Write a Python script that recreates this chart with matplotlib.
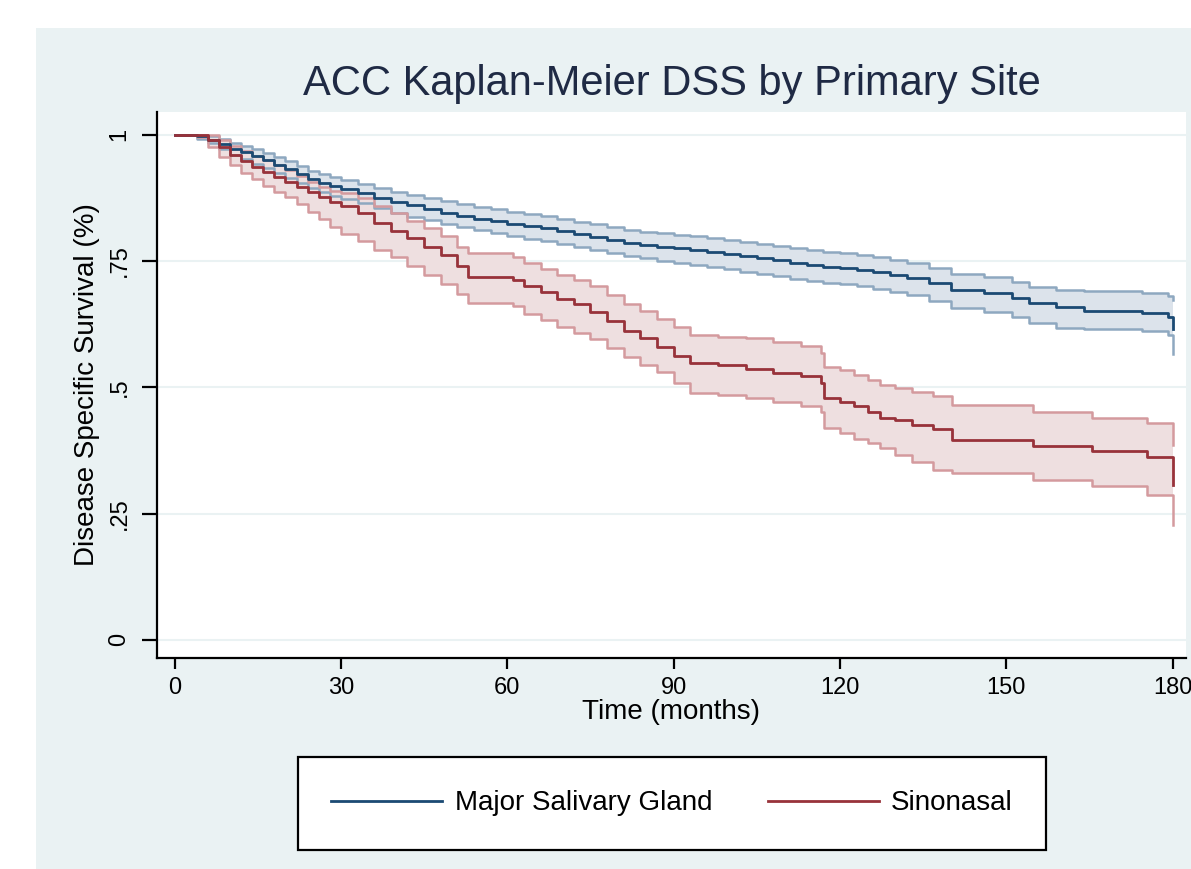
import matplotlib.pyplot as plt
import matplotlib.patches as mpatches
import numpy as np

plt.rcParams['font.family'] = ['Liberation Sans', 'DejaVu Sans']

# Major Salivary Gland: KM estimate and 95% CI
msg_t = [0, 4, 6, 8, 10, 12, 14, 16, 18, 20, 22, 24, 26, 28, 30, 33, 36, 39, 42, 45,
         48, 51, 54, 57, 60, 63, 66, 69, 72, 75, 78, 81, 84, 87, 90, 93, 96, 99, 102, 105,
         108, 111, 114, 117, 120, 123, 126, 129, 132, 136, 140, 146, 151, 154, 159, 164,
         174.5, 179.2, 180]
msg_s = [1.0, 0.997, 0.99, 0.982, 0.972, 0.965, 0.957, 0.949, 0.940, 0.932, 0.922, 0.912,
         0.905, 0.898, 0.892, 0.884, 0.874, 0.866, 0.860, 0.853, 0.846, 0.840, 0.834, 0.829,
         0.824, 0.819, 0.815, 0.809, 0.803, 0.798, 0.792, 0.786, 0.782, 0.778, 0.775, 0.772,
         0.768, 0.764, 0.759, 0.756, 0.752, 0.746, 0.742, 0.738, 0.737, 0.733, 0.728, 0.722,
         0.717, 0.706, 0.693, 0.687, 0.677, 0.667, 0.659, 0.652, 0.647, 0.640, 0.616]
msg_hi = [1.0, 1.0, 0.997, 0.992, 0.984, 0.978, 0.971, 0.964, 0.956, 0.948, 0.939, 0.929,
          0.923, 0.916, 0.911, 0.903, 0.894, 0.887, 0.881, 0.875, 0.868, 0.863, 0.857, 0.852,
          0.848, 0.843, 0.839, 0.834, 0.828, 0.823, 0.817, 0.812, 0.808, 0.805, 0.802, 0.799,
          0.795, 0.792, 0.787, 0.784, 0.780, 0.775, 0.771, 0.767, 0.766, 0.762, 0.757, 0.752,
          0.747, 0.737, 0.724, 0.718, 0.709, 0.699, 0.693, 0.690, 0.687, 0.680, 0.673]
msg_lo = [1.0, 0.992, 0.983, 0.972, 0.960, 0.952, 0.943, 0.934, 0.924, 0.915, 0.904, 0.894,
          0.886, 0.879, 0.872, 0.864, 0.854, 0.845, 0.838, 0.831, 0.824, 0.817, 0.811, 0.805,
          0.800, 0.794, 0.789, 0.783, 0.777, 0.771, 0.765, 0.759, 0.755, 0.750, 0.747, 0.743,
          0.739, 0.734, 0.729, 0.725, 0.721, 0.714, 0.710, 0.706, 0.704, 0.700, 0.694, 0.688,
          0.683, 0.670, 0.657, 0.650, 0.639, 0.628, 0.618, 0.616, 0.611, 0.603, 0.566]

# Sinonasal
sn_t = [0, 4, 6, 8, 10, 12, 14, 16, 18, 20, 22, 24, 26, 28, 30, 33, 36, 39, 42, 45, 48,
        51, 53, 61, 63, 66, 69, 72, 75, 78, 81, 84, 87, 90, 93, 98, 103, 108, 113, 116.5,
        117.1, 120, 122.5, 125, 127.3, 130, 133, 136.8, 140.2, 154.8, 165.4, 175.4, 180]
sn_s = [1.0, 1.0, 0.99, 0.975, 0.96, 0.948, 0.937, 0.926, 0.916, 0.907, 0.896, 0.886,
        0.876, 0.866, 0.858, 0.846, 0.826, 0.810, 0.795, 0.778, 0.762, 0.740, 0.719, 0.713,
        0.700, 0.688, 0.675, 0.664, 0.650, 0.632, 0.612, 0.597, 0.580, 0.562, 0.548, 0.545,
        0.536, 0.528, 0.523, 0.509, 0.479, 0.471, 0.462, 0.452, 0.440, 0.436, 0.425, 0.418,
        0.395, 0.383, 0.373, 0.362, 0.307]
sn_hi = [1.0, 1.0, 1.0, 0.99, 0.978, 0.968, 0.958, 0.949, 0.940, 0.930, 0.918, 0.906,
         0.896, 0.889, 0.884, 0.875, 0.858, 0.845, 0.830, 0.815, 0.800, 0.778, 0.766, 0.758,
         0.747, 0.735, 0.723, 0.712, 0.700, 0.683, 0.665, 0.652, 0.636, 0.620, 0.604, 0.600,
         0.597, 0.590, 0.581, 0.568, 0.541, 0.534, 0.525, 0.515, 0.505, 0.498, 0.490, 0.482,
         0.465, 0.451, 0.440, 0.430, 0.386]
sn_lo = [1.0, 0.995, 0.975, 0.955, 0.940, 0.925, 0.912, 0.898, 0.887, 0.876, 0.862, 0.848,
         0.834, 0.818, 0.804, 0.790, 0.772, 0.757, 0.740, 0.722, 0.705, 0.685, 0.667, 0.660,
         0.646, 0.633, 0.620, 0.608, 0.595, 0.578, 0.560, 0.545, 0.530, 0.508, 0.489, 0.485,
         0.479, 0.470, 0.462, 0.452, 0.420, 0.410, 0.398, 0.390, 0.380, 0.366, 0.353, 0.337,
         0.330, 0.317, 0.304, 0.287, 0.228]

x_ticks = [0, 30, 60, 90, 120, 150, 180]
y_ticks = [0, 0.25, 0.5, 0.75, 1]
y_ticklabels = ['0', '.25', '.5', '.75', '1']

bg = '#eaf2f3'
navy = '#1b4a73'
maroon = '#98323a'

fig = plt.figure(figsize=(11.91, 8.69), dpi=100)
fig.patch.set_facecolor('white')
fig.patches.append(mpatches.Rectangle((36 / 1191, 0), 1 - 36 / 1191, 1 - 28 / 869,
                                      transform=fig.transFigure, facecolor=bg,
                                      edgecolor='none', zorder=-10))

ax = fig.add_axes([157 / 1191, (869 - 658) / 869, (1186 - 157) / 1191, (658 - 111.5) / 869])
ax.set_facecolor('white')

# confidence bands
ax.fill_between(msg_t, msg_lo, msg_hi, step='post', color='#dce3eb', lw=0, zorder=2)
ax.fill_between(sn_t, sn_lo, sn_hi, step='post', color='#eedfe0', lw=0, zorder=2)
for t, hi, lo, c in [(msg_t, msg_hi, msg_lo, '#8ea8c0'), (sn_t, sn_hi, sn_lo, '#d49a9e')]:
    ax.step(t, hi, where='post', color=c, lw=1.8, zorder=3)
    ax.step(t, lo, where='post', color=c, lw=1.8, zorder=3)

l1, = ax.step(msg_t, msg_s, where='post', color=navy, lw=2, zorder=4,
              label='Major Salivary Gland')
l2, = ax.step(sn_t, sn_s, where='post', color=maroon, lw=2, zorder=4, label='Sinonasal')

ax.set_xlim(-3.17, 182.4)
ax.set_ylim(-0.036, 1.046)
ax.set_xticks(x_ticks)
ax.set_yticks(y_ticks)
ax.set_yticklabels(y_ticklabels, rotation=90, va='center')
ax.grid(axis='y', color=bg, lw=1.5, zorder=1)
ax.set_axisbelow(True)

for s in ['top', 'right']:
    ax.spines[s].set_visible(False)
for s in ['left', 'bottom']:
    ax.spines[s].set_linewidth(1.6)
    ax.spines[s].set_color('black')
ax.tick_params(axis='y', length=11, width=1.6, pad=8, labelsize=17)
ax.tick_params(axis='x', length=8, width=1.6, pad=6, labelsize=17)

ax.set_xlabel('Time (months)', fontsize=20, labelpad=0)
ax.set_ylabel('Disease Specific Survival (%)', fontsize=20, labelpad=6)
fig.text(672 / 1191, 1 - 84 / 869, 'ACC Kaplan-Meier DSS by Primary Site',
         ha='center', va='center', fontsize=30, color='#1f2a44')

leg = fig.legend(handles=[l1, l2], loc='center', bbox_to_anchor=(672 / 1191, 1 - 803.5 / 869),
                 ncol=2, fontsize=20, handlelength=4.0, handletextpad=0.45,
                 columnspacing=2.0, borderpad=1.2, fancybox=False, framealpha=1,
                 edgecolor='black')
leg.get_frame().set_linewidth(1.6)

fig.savefig('out.png', dpi=100, facecolor=fig.get_facecolor())
